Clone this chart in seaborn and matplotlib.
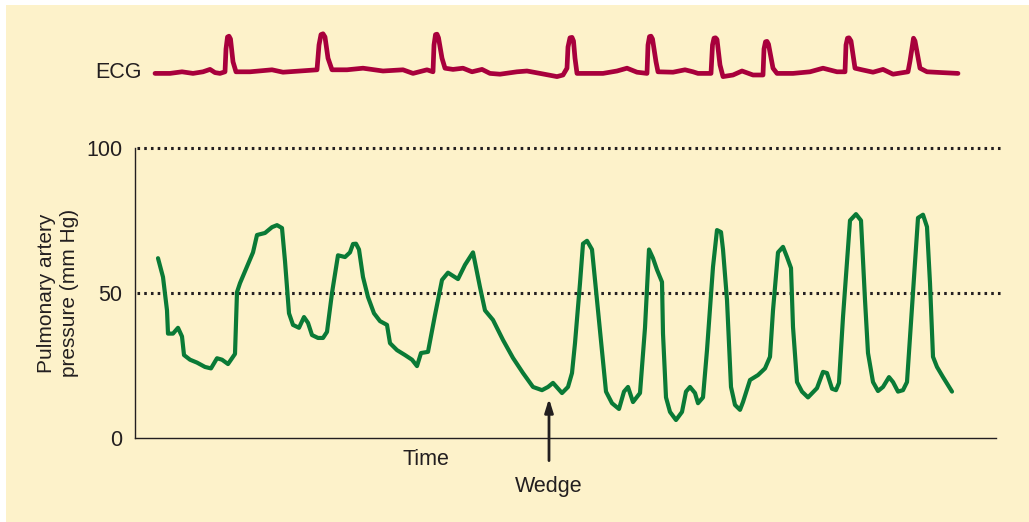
import matplotlib
matplotlib.use("Agg")
import matplotlib.pyplot as plt
from matplotlib.patches import Rectangle
import seaborn as sns

# time axis is arbitrary units (no scale shown on the chart)
ecg_time = [155, 170, 182, 193, 203, 210, 215, 220, 225, 226, 227.5, 229, 230.5, 233, 236,
            250, 272, 283, 300, 317, 319, 321, 323, 325, 328, 332,
            347, 363, 383, 403, 413, 427, 433, 434, 435.5, 437, 438.5, 442, 445,
            453, 463, 472, 482, 490, 500, 517, 527, 540, 557, 563, 567, 568, 570, 572, 573.5, 575, 577,
            590, 603, 617, 627, 637, 647, 648, 649.5, 651, 652.5, 656, 658,
            673, 685, 693, 698, 711, 712.5, 714, 715.5, 717, 720, 723,
            733, 742, 753, 763, 764, 765.5, 767, 768.5, 773, 777,
            793, 810, 823, 837, 845, 846, 847.5, 849, 851, 855, 862,
            873, 883, 893, 908, 910, 912, 913.5, 915, 917, 920, 927, 942, 958]
ecg_mv = [-0.01, -0.01, 0.03, -0.01, 0.03, 0.09, 0.01, -0.01, 0.03, 0.6, 0.9, 0.92, 0.85, 0.28, 0.03,
          0.03, 0.08, 0.02, 0.05, 0.08, 0.7, 0.96, 0.98, 0.9, 0.37, 0.08,
          0.08, 0.12, 0.05, 0.08, -0.01, 0.08, 0.03, 0.7, 0.96, 0.97, 0.88, 0.37, 0.12,
          0.09, 0.12, 0.03, 0.09, -0.01, -0.03, 0.03, 0.05, -0.01, -0.09, -0.05, 0.12, 0.65, 0.88, 0.89, 0.8, 0.37, -0.01,
          -0.01, -0.01, 0.05, 0.12, 0.02, -0.01, 0.7, 0.91, 0.92, 0.85, 0.28, 0.03,
          0.02, 0.08, 0.03, -0.01, -0.01, 0.7, 0.87, 0.88, 0.84, 0.2, -0.09,
          -0.05, 0.05, -0.05, -0.05, 0.6, 0.78, 0.79, 0.72, 0.12, -0.01,
          -0.01, 0.03, 0.12, 0.03, 0.03, 0.7, 0.87, 0.88, 0.8, 0.12, 0.08,
          0.02, 0.09, -0.03, 0.03, 0.3, 0.62, 0.87, 0.8, 0.53, 0.12, 0.03, 0.01, -0.01]

time = [158, 163, 167, 168, 173, 178, 182, 184, 190, 197, 205, 211, 217, 222, 228, 235, 237, 240,
        253, 257, 265, 272, 277, 282, 285, 289, 293, 299, 304, 308, 312, 318, 323, 327, 332, 338,
        345, 350, 353, 356, 359, 363, 368, 374, 380, 387, 390, 397, 405, 412, 417, 421, 428, 435,
        442, 448, 458, 465, 473, 480, 485, 493, 503, 513, 523, 533, 542, 548, 553, 562, 568, 572,
        575, 580, 583, 587, 592, 597, 602, 606, 612, 619, 624, 628, 633, 640, 645, 649, 653, 657,
        662, 663, 666, 670, 676, 682, 686, 690, 695, 698, 703, 707, 713, 717, 721, 723, 727, 731,
        735, 740, 743, 750, 758, 765, 770, 773, 778, 783, 787, 791, 793, 797, 802, 808, 817, 823,
        827, 832, 836, 839, 843, 850, 856, 861, 865, 868, 873, 878, 883, 889, 893, 898, 903, 907,
        913, 918, 923, 927, 930, 933, 937, 943, 952]
pressure = [62, 55.5, 44, 36, 36, 38, 35, 28.6, 27, 26, 24.5, 24, 27.5, 27, 25.5, 29, 50.3, 53.4,
            64, 70, 70.7, 72.7, 73.4, 72.4, 61, 43, 39, 38, 41.7, 39.7, 35.5, 34.5, 34.5, 36.6, 50, 63,
            62.4, 64, 66.9, 67, 65, 55.5, 48.6, 43, 40.3, 39, 32.7, 30.3, 28.6, 27, 24.8, 29.3, 29.7, 42.4,
            54.5, 57, 54.8, 59.7, 64, 52, 44, 40.7, 33.8, 27.6, 22.4, 17.6, 16.5, 17.6, 19, 15.5, 17.6, 22.4,
            32.7, 53.4, 67, 68, 65, 47.6, 30.3, 16, 12, 10, 16, 17.6, 12.4, 15.5, 38, 65, 62, 58,
            53.8, 36, 14, 9, 6.2, 9, 16, 17.6, 15.5, 12, 14, 30.3, 59, 71.7, 71, 65, 47.6, 17.6,
            11.4, 9.7, 12.4, 20, 21.7, 24, 28, 44, 64, 65.9, 62.4, 58.6, 38.3, 19.3, 16, 14, 17.2, 22.8,
            22.4, 17, 16.5, 19, 41.7, 75, 77.2, 75, 47.6, 29.3, 19.3, 16.2, 17.6, 21, 19.3, 16, 16.5, 19.3,
            50, 75.9, 77, 72.8, 53.4, 28, 24.5, 21, 16]

yticks = [0, 50, 100]
ref_lines = [50, 100]
wedge_time = 549

cream = "#FDF2CA"
green = "#0A7A36"
crimson = "#A8003C"
ink = "#231F20"

sns.set_style("white")
plt.rcParams["font.family"] = ["Liberation Sans", "DejaVu Sans"]

W, H = 1029, 522
fig = plt.figure(figsize=(W / 100, H / 100), dpi=100, facecolor="white")
fig.patches.append(Rectangle((6 / W, 0), 1 - 6 / W, (H - 5) / H, transform=fig.transFigure,
                             facecolor=cream, edgecolor="none", zorder=-10))

x0, x1 = 135, 1003
ax = fig.add_axes([x0 / W, (H - 438) / H, (x1 - x0) / W, (438 - 148) / H])
ax.set_facecolor("none")
ax.set_xlim(x0, x1)
ax.set_ylim(0, 100)

for v in ref_lines:
    ax.plot([137, 1001], [v, v], color=ink, lw=2.2, linestyle=(0, (0.85, 1.35)),
            dash_capstyle="butt", zorder=1, clip_on=False)

sns.lineplot(x=time, y=pressure, ax=ax, color=green, lw=3.0, estimator=None, sort=False,
             solid_joinstyle="round", solid_capstyle="round", zorder=3)

sns.despine(ax=ax, top=True, right=True)
ax.spines["left"].set_color(ink)
ax.spines["bottom"].set_color(ink)
ax.spines["left"].set_linewidth(1.0)
ax.spines["bottom"].set_linewidth(1.0)
ax.spines["bottom"].set_bounds(x0, 996)
ax.set_yticks(yticks)
ax.set_yticklabels([str(t) for t in yticks], fontsize=15.5, color=ink)
ax.set_xticks([])
ax.tick_params(axis="y", length=0, pad=9)
ax.set_xlabel("")
ax.set_ylabel("Pulmonary artery\npressure (mm Hg)", fontsize=15, color=ink, labelpad=5,
              linespacing=1.3)

ax.text(426, -7.5, "Time", ha="center", va="center", fontsize=15.5, color=ink)
ax.text(wedge_time, -16.8, "Wedge", ha="center", va="center", fontsize=15.5, color=ink)
ax.annotate("", xy=(wedge_time, 13.6), xytext=(wedge_time, -7.8),
            arrowprops=dict(arrowstyle="-|>,head_length=0.8,head_width=0.25", color=ink, lw=2,
                            shrinkA=0, shrinkB=0),
            annotation_clip=False)

# ECG strip above the pressure trace
ax2 = fig.add_axes([x0 / W, (H - 90) / H, (x1 - x0) / W, 70 / H])
ax2.set_facecolor("none")
ax2.set_xlim(x0, x1)
ax2.set_ylim(-0.425, 1.325)
sns.lineplot(x=ecg_time, y=ecg_mv, ax=ax2, color=crimson, lw=3.4, estimator=None, sort=False,
             solid_joinstyle="round", solid_capstyle="round")
ax2.axis("off")
ax2.text(142, 0, "ECG", ha="right", va="center", fontsize=15.5, color=ink)

fig.savefig("out.png", dpi=100, facecolor="white")
